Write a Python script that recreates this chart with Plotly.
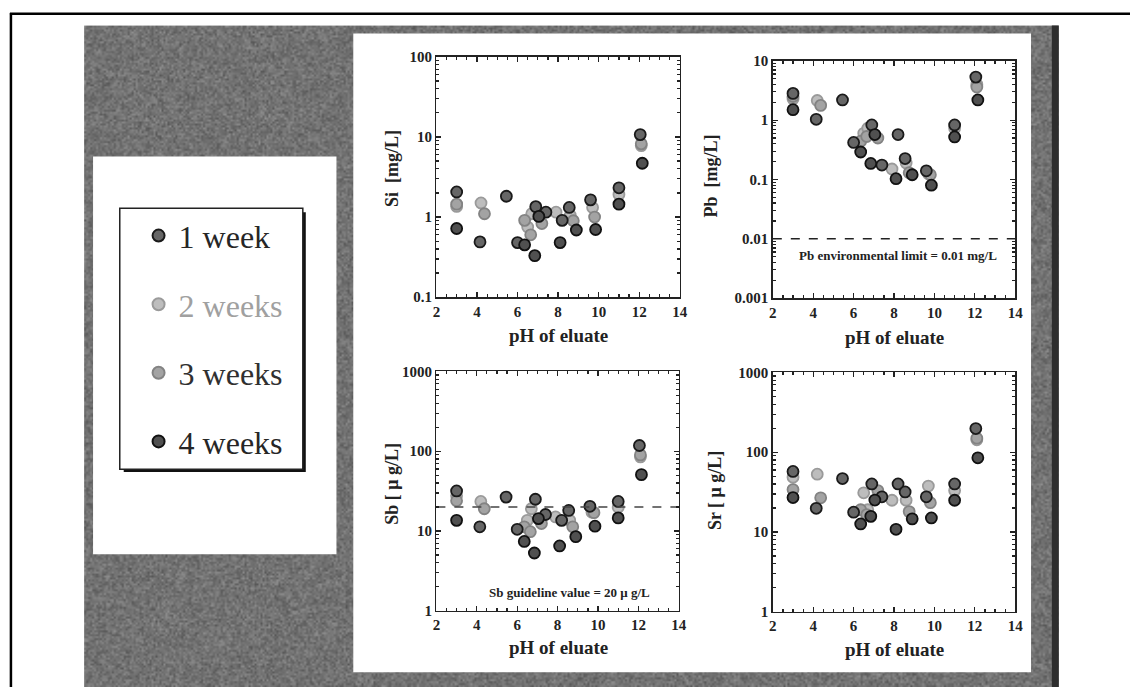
import base64, struct, zlib
import numpy as np
import plotly.graph_objects as go

W, H = 1138, 695

# ---------------- data ----------------
weeks = ["1 week", "2 weeks", "3 weeks", "4 weeks"]

ph_w1 = [3.0, 4.15, 5.45, 6.0, 6.9, 7.4, 8.2, 8.55, 9.6, 11.0, 12.05]
ph_w2 = [3.0, 4.2, 6.5, 6.7, 7.9, 8.6, 9.7, 11.0, 12.1]
ph_w3 = [3.0, 4.37, 6.35, 6.65, 7.2, 8.75, 9.8, 12.1]
ph_w4 = [3.0, 6.35, 6.85, 7.05, 8.1, 8.9, 9.85, 11.0, 12.15]

si_w1 = [2.06, 0.49, 1.82, 0.48, 1.35, 1.15, 0.91, 1.32, 1.64, 2.32, 10.7]
si_w2 = [1.36, 1.5, 0.75, 1.1, 1.15, 1.05, 1.32, 1.92, 7.8]
si_w3 = [1.45, 1.1, 0.91, 0.6, 0.83, 0.9, 1.0, 8.2]
si_w4 = [0.72, 0.45, 0.33, 1.02, 0.48, 0.69, 0.7, 1.45, 4.7]

pb_w1 = [2.82, 1.03, 2.19, 0.42, 0.83, 0.175, 0.57, 0.225, 0.14, 0.83, 5.3]
pb_w2 = [2.27, 2.14, 0.6, 0.73, 0.15, 0.19, 0.125, 0.73, 4.0]
pb_w3 = [2.5, 1.77, 0.44, 0.53, 0.5, 0.13, 0.12, 3.6]
pb_w4 = [1.5, 0.29, 0.186, 0.57, 0.103, 0.12, 0.08, 0.52, 2.19]

sb_w1 = [31.8, 11.3, 26.6, 10.5, 25.0, 16.1, 13.6, 18.1, 20.4, 23.5, 118]
sb_w2 = [27.6, 23.5, 13.6, 19.0, 15.0, 13.6, 17.2, 19.8, 85]
sb_w3 = [24.0, 19.0, 11.3, 9.8, 12.4, 11.3, 17.0, 90]
sb_w4 = [13.6, 7.4, 5.3, 14.3, 6.5, 8.5, 11.5, 14.6, 50.9]

sr_w1 = [57.4, 19.8, 46.7, 17.7, 40.0, 27.6, 40.0, 31.8, 27.6, 40.0, 198]
sr_w2 = [48.5, 53.0, 31.0, 19.0, 25.0, 25.0, 37.6, 33.0, 143]
sr_w3 = [34.0, 26.8, 19.0, 16.5, 33.0, 18.0, 23.3, 150]
sr_w4 = [27.0, 12.6, 15.7, 25.1, 10.8, 14.6, 15.0, 25.0, 85]

pb_limit = 0.01
sb_guideline = 20

x_ticks = [2, 4, 6, 8, 10, 12, 14]
si_ticks = ["0.1", "1", "10", "100"]
pb_ticks = ["0.001", "0.01", "0.1", "1", "10"]
sb_ticks = ["1", "10", "100", "1000"]
sr_ticks = ["1", "10", "100", "1000"]

# ---------------- helpers ----------------
def px(x):
    return x / W

def py(y):
    return 1 - y / H

SERIF = "Liberation Serif"
INK = "#222222"

styles = {
    "1 week": dict(fill="#666666", line="#1a1a1a", text="#262626", rank=1),
    "2 weeks": dict(fill="#bdbdbd", line="#9a9a9a", text="#a0a0a0", rank=2),
    "3 weeks": dict(fill="#a3a3a3", line="#838383", text="#303030", rank=3),
    "4 weeks": dict(fill="#505050", line="#111111", text="#262626", rank=4),
}

ph = {"1 week": ph_w1, "2 weeks": ph_w2, "3 weeks": ph_w3, "4 weeks": ph_w4}
panels = [
    ("x", "y", {"1 week": si_w1, "2 weeks": si_w2, "3 weeks": si_w3, "4 weeks": si_w4}),
    ("x2", "y2", {"1 week": pb_w1, "2 weeks": pb_w2, "3 weeks": pb_w3, "4 weeks": pb_w4}),
    ("x3", "y3", {"1 week": sb_w1, "2 weeks": sb_w2, "3 weeks": sb_w3, "4 weeks": sb_w4}),
    ("x4", "y4", {"1 week": sr_w1, "2 weeks": sr_w2, "3 weeks": sr_w3, "4 weeks": sr_w4}),
]

fig = go.Figure()
draw_order = ["2 weeks", "3 weeks", "1 week", "4 weeks"]
for i, (xa, ya, vals) in enumerate(panels):
    for wk in draw_order:
        st = styles[wk]
        fig.add_trace(go.Scatter(
            x=ph[wk], y=vals[wk], xaxis=xa, yaxis=ya, mode="markers",
            name=f"<span style='color:{st['text']}'>{wk}</span>",
            legendgroup=wk, legendrank=st["rank"], showlegend=(i == 0),
            marker=dict(size=11, color=st["fill"], line=dict(color=st["line"], width=1.8)),
            hoverinfo="skip",
        ))

# dashed limit lines drawn from the limit values
fig.add_trace(go.Scatter(x=[x_ticks[0], x_ticks[-1]], y=[pb_limit, pb_limit], xaxis="x2", yaxis="y2",
                         mode="lines", line=dict(color=INK, width=1.5, dash="dash"),
                         showlegend=False, hoverinfo="skip"))
fig.add_trace(go.Scatter(x=[x_ticks[0], x_ticks[-1]], y=[sb_guideline, sb_guideline], xaxis="x3", yaxis="y3",
                         mode="lines", line=dict(color="#444", width=1.5, dash="dash"),
                         showlegend=False, hoverinfo="skip"))

# ---------------- axes ----------------
boxes = {
    "1": (437, 683, 50, 296),
    "2": (777, 1022, 54, 297),
    "3": (437, 682, 372, 617),
    "4": (777, 1022, 373, 618),
}
yinfo = {
    "1": ([-1, 2], si_ticks),
    "2": ([-3, 1], pb_ticks),
    "3": ([0, 3], sb_ticks),
    "4": ([0, 3], sr_ticks),
}
tickfont = dict(family=SERIF, size=15, color=INK, weight="bold")
common = dict(showline=True, linecolor=INK, linewidth=1.5, mirror="allticks",
              ticks="inside", ticklen=5, tickwidth=1.2, tickcolor=INK,
              showgrid=False, zeroline=False, tickfont=tickfont, fixedrange=True)

layout_axes = {}
for k, (x0, x1, y0, y1) in boxes.items():
    xn = "xaxis" if k == "1" else f"xaxis{k}"
    yn = "yaxis" if k == "1" else f"yaxis{k}"
    yid = "y" if k == "1" else f"y{k}"
    xid = "x" if k == "1" else f"x{k}"
    rng, labels = yinfo[k]
    layout_axes[xn] = dict(common, domain=[px(x0), px(x1)], anchor=yid, range=[2, 14],
                           tickmode="array", tickvals=x_ticks, ticktext=[str(t) for t in x_ticks],
                           minor=dict(dtick=0.5, ticks="inside", ticklen=3, tickcolor=INK, showgrid=False))
    layout_axes[yn] = dict(common, domain=[py(y1), py(y0)], anchor=xid, type="log", range=rng,
                           tickmode="array", tickvals=[float(t) for t in labels], ticktext=labels,
                           minor=dict(dtick="D1", ticks="inside", ticklen=3, tickcolor=INK, showgrid=False))

# ---------------- textured gray backdrop (decoration only) ----------------
def grain_png(w, h):
    M = np.uint64(0xFFFFFFFF)
    n = (np.arange(h, dtype=np.uint64)[:, None] * np.uint64(w)
         + np.arange(w, dtype=np.uint64)[None, :] + np.uint64(12345))
    v = n & M
    v = v ^ (v >> np.uint64(16)); v = (v * np.uint64(0x85EBCA6B)) & M
    v = v ^ (v >> np.uint64(13)); v = (v * np.uint64(0xC2B2AE35)) & M
    v = v ^ (v >> np.uint64(16))
    a = (v & np.uint64(0xFF)).astype(np.int32)
    b = ((v >> np.uint64(8)) & np.uint64(0xFF)).astype(np.int32)
    g = 116 + ((a + b) - 255) * 30 // 255          # triangular spread around mid gray
    g = (np.clip(g, 0, 255) // 4 * 4).astype(np.uint8)
    raw = b"".join(b"\x00" + g[r].tobytes() for r in range(h))
    def chunk(t, d):
        c = struct.pack(">I", len(d)) + t + d
        return c + struct.pack(">I", zlib.crc32(t + d) & 0xffffffff)
    png = b"\x89PNG\r\n\x1a\n" + chunk(b"IHDR", struct.pack(">IIBBBBB", w, h, 8, 0, 0, 0, 0)) \
        + chunk(b"IDAT", zlib.compress(raw, 9)) + chunk(b"IEND", b"")
    return "data:image/png;base64," + base64.b64encode(png).decode()

gx0, gx1, gy0, gy1 = 81, 1066, 18, 695
images = [dict(source=grain_png((gx1 - gx0) // 2, (gy1 - gy0) // 2), xref="paper", yref="paper",
               x=px(gx0), y=py(gy0), sizex=px(gx1) - px(gx0), sizey=py(gy0) - py(gy1),
               sizing="stretch", xanchor="left", yanchor="top", layer="below")]

# ---------------- decoration shapes ----------------
shapes = [
    # page border (top and left)
    dict(type="line", xref="paper", yref="paper", x0=px(6), x1=1.0, y0=py(6), y1=py(6),
         line=dict(color="black", width=2.5)),
    dict(type="line", xref="paper", yref="paper", x0=px(7), x1=px(7), y0=py(5), y1=0,
         line=dict(color="black", width=2.5)),
    # dark right edge of the backdrop
    dict(type="rect", xref="paper", yref="paper", x0=px(1059), x1=px(1066), y0=0, y1=py(18),
         line=dict(width=0), fillcolor="#2e2e2e", layer="below"),
    # left white panel
    dict(type="rect", xref="paper", yref="paper", x0=px(90), x1=px(336), y0=py(559), y1=py(152),
         line=dict(width=0), fillcolor="white", layer="below"),
    # right white panel
    dict(type="rect", xref="paper", yref="paper", x0=px(353), x1=px(1038), y0=py(680), y1=py(26),
         line=dict(width=0), fillcolor="white", layer="below"),
    # legend box shadow + box
    dict(type="rect", xref="paper", yref="paper", x0=px(121), x1=px(305), y0=py(475), y1=py(209),
         line=dict(width=0), fillcolor="#111", layer="below"),
    dict(type="rect", xref="paper", yref="paper", x0=px(117), x1=px(302), y0=py(472), y1=py(205),
         line=dict(color="#222", width=1.5), fillcolor="white", layer="below"),
]

# ---------------- text ----------------
ann = []
def label(x, y, text, size, angle=0, color=INK, weight="bold"):
    ann.append(dict(xref="paper", yref="paper", x=px(x), y=py(y), text=text, showarrow=False,
                    textangle=angle, xanchor="center", yanchor="middle",
                    font=dict(family=SERIF, size=size, color=color, weight=weight)))

label(560, 335, "pH of eluate", 19)
label(900, 337, "pH of eluate", 19)
label(560, 655, "pH of eluate", 19)
label(900, 657, "pH of eluate", 19)
label(392, 164, "Si&nbsp;&nbsp;[mg/L]", 18, -90)
label(715, 172, "Pb&nbsp;&nbsp;[mg/L]", 18, -90)
label(392, 487, "Sb [ μ g/L]", 18, -90)
label(718, 494, "Sr [ μ g/L]", 18, -90)
label(904, 253, "Pb environmental limit = 0.01 mg/L", 13)
label(572, 598, "Sb guideline value = 20 μ g/L", 13)

fig.update_layout(
    width=W, height=H, margin=dict(l=0, r=0, t=0, b=0),
    paper_bgcolor="white", plot_bgcolor="rgba(0,0,0,0)",
    shapes=shapes, annotations=ann, images=images,
    legend=dict(x=px(136), y=py(205), xanchor="left", yanchor="top",
                font=dict(family=SERIF, size=32, color=INK),
                bgcolor="rgba(0,0,0,0)", borderwidth=0, tracegroupgap=24,
                itemsizing="constant"),
    **layout_axes,
)

fig.write_html("out.html", config={"displayModeBar": False, "staticPlot": True},
               post_script="document.body.style.margin='0';document.body.style.overflow='hidden';")
